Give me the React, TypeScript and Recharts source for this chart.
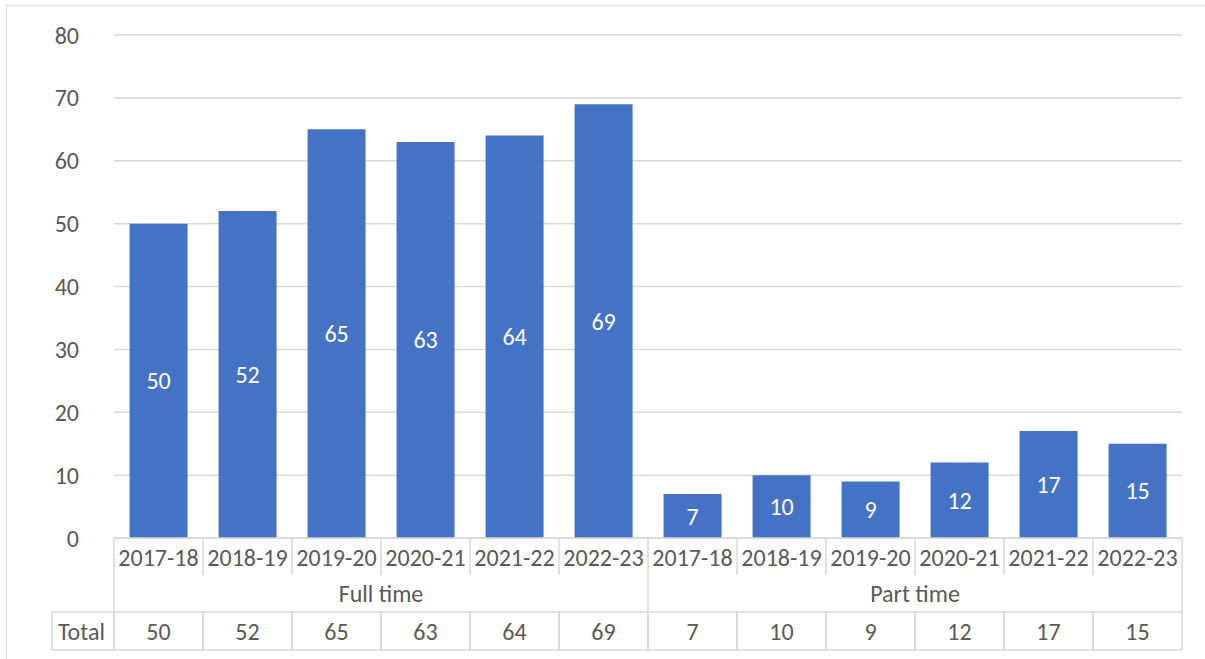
import React from 'react';
import { BarChart, Bar, XAxis, YAxis, CartesianGrid, LabelList } from 'recharts';

const periods = ['2017-18', '2018-19', '2019-20', '2020-21', '2021-22', '2022-23'];
const groups = ['Full time', 'Part time'];
const fullTime = [50, 52, 65, 63, 64, 69];
const partTime = [7, 10, 9, 12, 17, 15];
const yTicks = [0, 10, 20, 30, 40, 50, 60, 70, 80];
const rowLabel = 'Total';

const data = [
  ...fullTime.map((v, i) => ({ key: `ft-${i}`, period: periods[i], group: groups[0], value: v })),
  ...partTime.map((v, i) => ({ key: `pt-${i}`, period: periods[i], group: groups[1], value: v })),
];

const FONT = "Carlito, Calibri, 'Open Sans', sans-serif";
const TEXT = '#595959';
const LINE = '#d9d9d9';
const FS = 24;
const GROUP_SIZE = periods.length;
const ROW1 = 37;
const ROW2 = 37;
const ROW3 = 38;

const CategoryTick = (props: any) => {
  const { x, y, payload, index } = props;
  const off = payload.offset ?? 0;
  const i = index ?? payload.index;
  const d = data[i];
  return (
    <g>
      <text x={x} y={y + ROW1 / 2 + 1} textAnchor="middle" dominantBaseline="central" fill={TEXT} fontSize={FS} fontFamily={FONT}>
        {d.period}
      </text>
      {i === 0 && <line x1={x - off} x2={x - off} y1={y} y2={y + ROW1} stroke={LINE} strokeWidth={1.5} />}
      <line x1={x + off} x2={x + off} y1={y} y2={y + ROW1} stroke={LINE} strokeWidth={1.5} />
    </g>
  );
};

const GroupTick = (props: any) => {
  const { x, y, payload, index } = props;
  const off = payload.offset ?? 0;
  const i = index ?? payload.index;
  const d = data[i];
  const pos = i % GROUP_SIZE;
  return (
    <g>
      {pos === Math.floor(GROUP_SIZE / 2) - 1 && (
        <text x={x + off} y={y + ROW2 / 2} textAnchor="middle" dominantBaseline="central" fill={TEXT} fontSize={FS} fontFamily={FONT}>
          {d.group}
        </text>
      )}
      {i === 0 && <line x1={x - off} x2={x - off} y1={y} y2={y + ROW2} stroke={LINE} strokeWidth={1.5} />}
      {pos === GROUP_SIZE - 1 && <line x1={x + off} x2={x + off} y1={y} y2={y + ROW2} stroke={LINE} strokeWidth={1.5} />}
    </g>
  );
};

const TotalTick = (props: any) => {
  const { x, y, payload, index } = props;
  const off = payload.offset ?? 0;
  const i = index ?? payload.index;
  const d = data[i];
  const labelW = 62;
  return (
    <g>
      {i === 0 && (
        <g>
          <rect x={x - off - labelW} y={y} width={labelW} height={ROW3} fill="none" stroke={LINE} strokeWidth={1.5} />
          <text x={x - off - labelW + 6} y={y + ROW3 / 2} textAnchor="start" dominantBaseline="central" fill={TEXT} fontSize={FS} fontFamily={FONT}>
            {rowLabel}
          </text>
        </g>
      )}
      <rect x={x - off} y={y} width={off * 2} height={ROW3} fill="none" stroke={LINE} strokeWidth={1.5} />
      <text x={x} y={y + ROW3 / 2} textAnchor="middle" dominantBaseline="central" fill={TEXT} fontSize={FS} fontFamily={FONT}>
        {d.value}
      </text>
    </g>
  );
};

export default function App() {
  return (
    <div style={{ position: 'absolute', left: 0, top: 0, width: 1205, height: 659, overflow: 'hidden', background: '#fff' }}>
      <div style={{ position: 'absolute', left: 6, top: 5, width: 1210, height: 700, border: `1.5px solid ${LINE}`, boxSizing: 'border-box' }} />
      <div style={{ position: 'absolute', left: 0, top: 0 }}>
        <BarChart width={1205} height={659} data={data} margin={{ top: 35, right: 23, bottom: 9, left: 0 }} barCategoryGap="17.5%">
          <CartesianGrid vertical={false} stroke={LINE} strokeWidth={1.5} xAxisId="cat" />
          <YAxis
            domain={[0, 80]}
            ticks={yTicks}
            width={114}
            axisLine={false}
            tickLine={false}
            tickSize={0}
            tickMargin={35}
            tick={{ fill: TEXT, fontSize: FS, fontFamily: FONT }}
          />
          <XAxis
            xAxisId="cat"
            dataKey="key"
            height={ROW1}
            interval={0}
            tickLine={false}
            tickSize={0}
            tickMargin={0}
            axisLine={{ stroke: LINE, strokeWidth: 1.5 }}
            tick={<CategoryTick />}
          />
          <XAxis
            xAxisId="group"
            dataKey="key"
            height={ROW2}
            interval={0}
            tickLine={false}
            tickSize={0}
            tickMargin={0}
            axisLine={false}
            tick={<GroupTick />}
          />
          <XAxis
            xAxisId="total"
            dataKey="key"
            height={ROW3}
            interval={0}
            tickLine={false}
            tickSize={0}
            tickMargin={0}
            axisLine={false}
            tick={<TotalTick />}
          />
          <Bar dataKey="value" xAxisId="cat" fill="#4472C4" isAnimationActive={false}>
            <LabelList dataKey="value" position="center" fill="#ffffff" fontSize={FS} fontFamily={FONT} />
          </Bar>
        </BarChart>
      </div>
    </div>
  );
}
